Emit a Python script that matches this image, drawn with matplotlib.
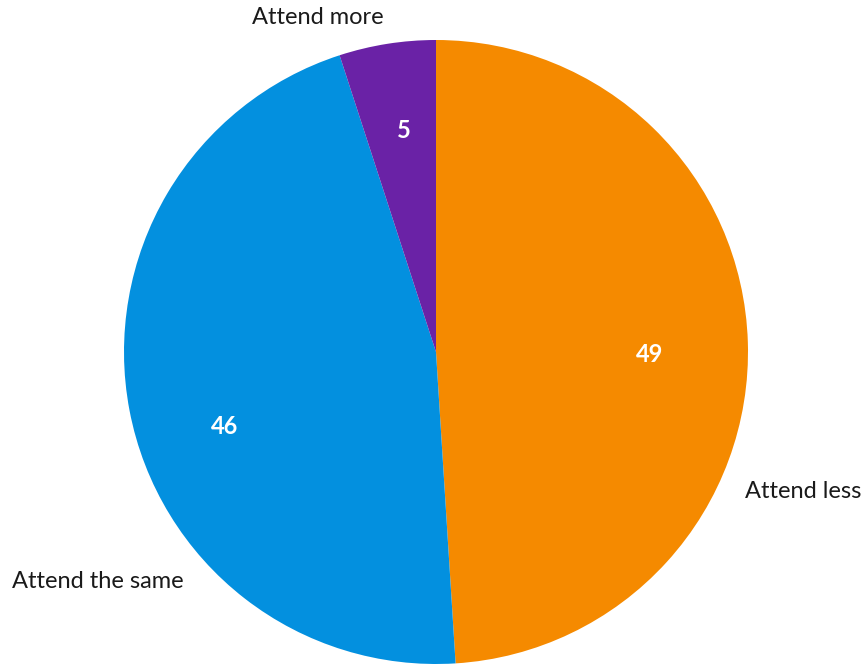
import matplotlib.pyplot as plt

# Survey answers (percent)
labels = ["Attend less", "Attend the same", "Attend more"]
values = [49, 46, 5]
colors = ["#F58A00", "#0390DF", "#6A22A6"]

W, H = 865, 664
fig = plt.figure(figsize=(W / 100, H / 100), dpi=100)
ax = fig.add_axes([0, 0, 1, 1])

font = ["Lato", "DejaVu Sans"]

wedges, texts, autotexts = ax.pie(
    values, colors=colors, startangle=90, counterclock=False,
    center=(436, H - 352), radius=312,
    autopct=lambda p: f"{p:.0f}", pctdistance=0.7,
    wedgeprops=dict(linewidth=0),
    textprops=dict(color="white", fontsize=17, fontweight="bold", family=font),
)
# nudge value labels to where the original puts them
for t, (x, y) in zip(autotexts, [(650, 355), (225, 427), (404, 130)]):
    t.set_position((x, H - y))

# outer labels
ax.text(745, H - 492, labels[0], ha="left", va="center", fontsize=17, family=font, color="#1a1a1a")
ax.text(12, H - 582, labels[1], ha="left", va="center", fontsize=17, family=font, color="#1a1a1a")
ax.text(252, H - 18, labels[2], ha="left", va="center", fontsize=17, family=font, color="#1a1a1a")

ax.set_xlim(0, W)
ax.set_ylim(0, H)
ax.set_aspect("equal")
ax.axis("off")

fig.savefig("out.png", dpi=100)
